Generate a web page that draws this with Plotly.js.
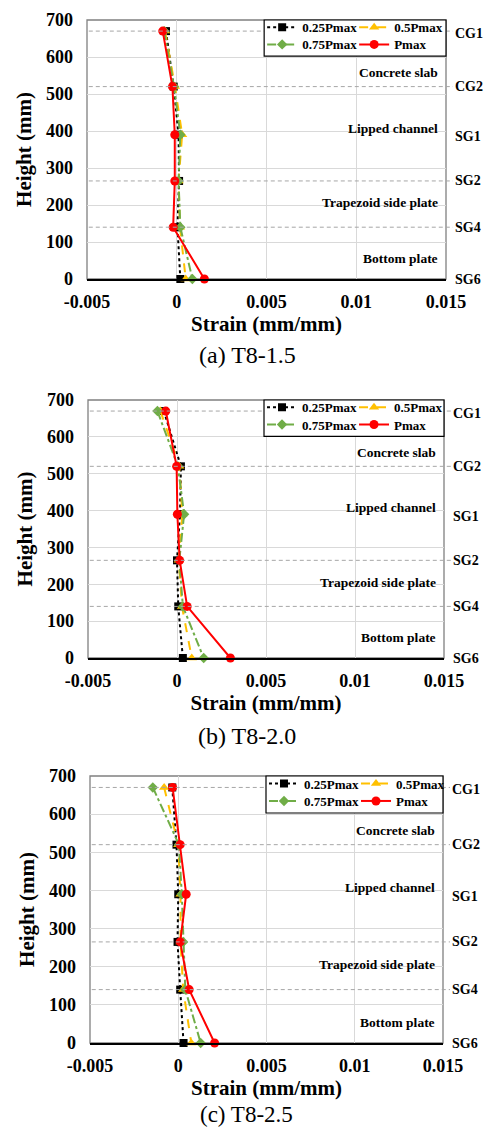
<!DOCTYPE html>
<html><head><meta charset="utf-8">
<script src="https://cdn.plot.ly/plotly-3.0.1.min.js"></script>
<style>
body{margin:0;background:#fff;width:487px;height:1132px;position:relative;overflow:hidden}
.fig{position:absolute;left:0;width:487px}
</style></head>
<body>
<div id="ga" class="fig" style="top:0;height:380px"></div>
<div id="gb" class="fig" style="top:380px;height:370px"></div>
<div id="gc" class="fig" style="top:750px;height:382px"></div>
<script>
// ---------- data ----------
const heights = [670, 520, 390, 265, 140, 0];
const sensorLabels = ['CG1', 'CG2', 'SG1', 'SG2', 'SG4', 'SG6'];
const dashedSensors = ['CG1', 'CG2', 'SG2', 'SG4'];
const regionLabels = ['Concrete slab', 'Lipped channel', 'Trapezoid side plate', 'Bottom plate'];
const seriesNames = ['0.25Pmax', '0.5Pmax', '0.75Pmax', 'Pmax'];
const xTickVals = [-0.005, 0, 0.005, 0.01, 0.015];
const xTickText = ['-0.005', '0', '0.005', '0.01', '0.015'];
const yTickVals = [0, 100, 200, 300, 400, 500, 600, 700];
const captions = ['(a) T8-1.5', '(b) T8-2.0', '(c) T8-2.5'];

// T8-1.5
const strainA_025 = [-0.0006, -0.00017, 0.0001, 0.00013, 0.00004, 0.0002];
const strainA_050 = [-0.00065, -0.0001, 0.0003, 0.0001, 0.00018, 0.0005];
const strainA_075 = [-0.0007, -0.00015, 0.0002, 0.0001, 0.0002, 0.00087];
const strainA_max = [-0.00078, -0.00024, -0.00011, -0.00011, -0.0002, 0.00154];
// T8-2.0
const strainB_025 = [-0.00074, 0.00022, 0.00017, 0.0, 0.00007, 0.00033];
const strainB_050 = [-0.00093, 0.00013, 0.0003, 0.0001, 0.00028, 0.00083];
const strainB_075 = [-0.0011, 0.00005, 0.0004, 0.00013, 0.00033, 0.0015];
const strainB_max = [-0.00063, -0.00002, 0.00002, 0.00015, 0.00057, 0.003];
// T8-2.5
const strainC_025 = [-0.00034, -0.0001, 0.0, -0.00004, 0.00011, 0.0003];
const strainC_050 = [-0.0008, 0.0, 0.00013, 0.00013, 0.00028, 0.00074];
const strainC_075 = [-0.00144, 0.00004, 0.0002, 0.00028, 0.0004, 0.00127];
const strainC_max = [-0.00032, 0.00011, 0.00045, 0.00011, 0.00062, 0.00206];

// ---------- styles / layout ----------
const FONT = 'Liberation Serif, Times New Roman, serif';
const regionLabelY = [557, 408, 206, 55];
const styles = [
  {color: '#000000', dash: 'dot', symbol: 'square', size: 8},
  {color: '#FFC000', dash: 'dash', symbol: 'triangle-up', size: 9},
  {color: '#70AD47', dash: 'dashdot', symbol: 'diamond', size: 8},
  {color: '#FF0000', dash: 'solid', symbol: 'circle', size: 9}
];

const figs = [
  {id: 'ga', H: 380, L: 86.7, R: 446, T: 14, B: 278.7, series: [strainA_025, strainA_050, strainA_075, strainA_max], cap: captions[0], capY: 356, capSize: 24, boxL: 264},
  {id: 'gb', H: 370, L: 87.7, R: 444.3, T: 15, B: 277.7, series: [strainB_025, strainB_050, strainB_075, strainB_max], cap: captions[1], capY: 357, capSize: 24, boxL: 264},
  {id: 'gc', H: 382, L: 90.3, R: 442.7, T: 25.7, B: 292.7, series: [strainC_025, strainC_050, strainC_075, strainC_max], cap: captions[2], capY: 364, capSize: 23, boxL: 266}
];

figs.forEach(f => {
  const pw = f.R - f.L, ph = f.B - f.T;
  const px2x = x => (x - f.L) / pw;
  const py2y = y => (f.B - y) / ph;

  const traces = f.series.map((vals, i) => ({
    type: 'scatter', mode: 'lines+markers',
    x: vals, y: heights, name: seriesNames[i],
    legend: (i === 0 || i === 1) ? 'legend' : 'legend2',
    line: {color: styles[i].color, width: 2, dash: styles[i].dash},
    marker: {color: styles[i].color, symbol: styles[i].symbol, size: styles[i].size},
    cliponaxis: false
  }));

  const shapes = [];
  shapes.push({type: 'rect', xref: 'paper', yref: 'paper', x0: 0, x1: 1, y0: 0, y1: 1,
    line: {color: '#808080', width: 1.3}, layer: 'below'});
  dashedSensors.forEach(s => {
    const h = heights[sensorLabels.indexOf(s)];
    shapes.push({type: 'line', xref: 'paper', yref: 'y', x0: 0.005, x1: 1 + 7 / pw, y0: h, y1: h,
      line: {color: '#A6A6A6', width: 1, dash: '4px,3px'}, layer: 'above'});
  });
  shapes.push({type: 'rect', xref: 'paper', yref: 'paper', x0: px2x(f.boxL), x1: 1,
    y0: py2y(f.T + 37), y1: 1, line: {color: '#000000', width: 1.2}, fillcolor: '#ffffff', layer: 'above'});

  const annotations = [];
  sensorLabels.forEach((s, i) => {
    annotations.push({xref: 'paper', yref: 'y', x: 1, y: heights[i], xanchor: 'left', yanchor: 'middle',
      xshift: 7, yshift: (s === 'CG1' || s === 'SG1') ? -2 : 0, text: s, showarrow: false,
      font: {family: FONT, size: 14, color: '#000', weight: 'bold'}});
  });
  regionLabels.forEach((r, i) => {
    annotations.push({xref: 'paper', yref: 'y', x: 1, y: regionLabelY[i], xanchor: 'right', yanchor: 'middle',
      xshift: -6, text: r, showarrow: false,
      font: {family: FONT, size: 13.5, color: '#000', weight: 'bold'}});
  });
  annotations.push({xref: 'paper', yref: 'paper', x: px2x(247), y: py2y(f.capY), xanchor: 'center', yanchor: 'middle',
    text: f.cap, showarrow: false, font: {family: FONT, size: f.capSize, color: '#000'}});

  const legendCommon = {orientation: 'h', xanchor: 'left', yanchor: 'middle', bgcolor: 'rgba(0,0,0,0)',
    borderwidth: 0, entrywidth: 47, entrywidthmode: 'pixels',
    font: {family: FONT, size: 13, color: '#000', weight: 'bold'}};

  const layout = {
    width: 487, height: f.H,
    margin: {l: f.L, r: 487 - f.R, t: f.T, b: f.H - f.B, pad: 0},
    paper_bgcolor: '#fff', plot_bgcolor: '#fff',
    showlegend: true,
    legend: Object.assign({}, legendCommon, {x: px2x(f.boxL - 2), y: py2y(f.T + 7.5)}),
    legend2: Object.assign({}, legendCommon, {x: px2x(f.boxL - 2), y: py2y(f.T + 25)}),
    xaxis: {
      range: [-0.005, 0.015], tickvals: xTickVals, ticktext: xTickText,
      showgrid: true, gridcolor: '#D9D9D9', gridwidth: 1, zeroline: false,
      showline: true, linecolor: '#000', linewidth: 1.5,
      ticks: '', ticklabelstandoff: 6,
      tickfont: {family: FONT, size: 18, color: '#000', weight: 'bold'},
      title: {text: 'Strain (mm/mm)', standoff: 2, font: {family: FONT, size: 21, color: '#000', weight: 'bold'}},
      automargin: false, fixedrange: true
    },
    yaxis: {
      range: [0, 700], tickvals: yTickVals,
      showgrid: true, gridcolor: '#D9D9D9', gridwidth: 1, zeroline: false,
      showline: false, ticks: '', ticklabelstandoff: 13,
      tickfont: {family: FONT, size: 18, color: '#000', weight: 'bold'},
      title: {text: 'Height (mm)', standoff: 8, font: {family: FONT, size: 21, color: '#000', weight: 'bold'}},
      automargin: false, fixedrange: true
    },
    shapes: shapes, annotations: annotations
  };
  Plotly.newPlot(f.id, traces, layout, {displayModeBar: false, staticPlot: true});
});
</script>
</body></html>
